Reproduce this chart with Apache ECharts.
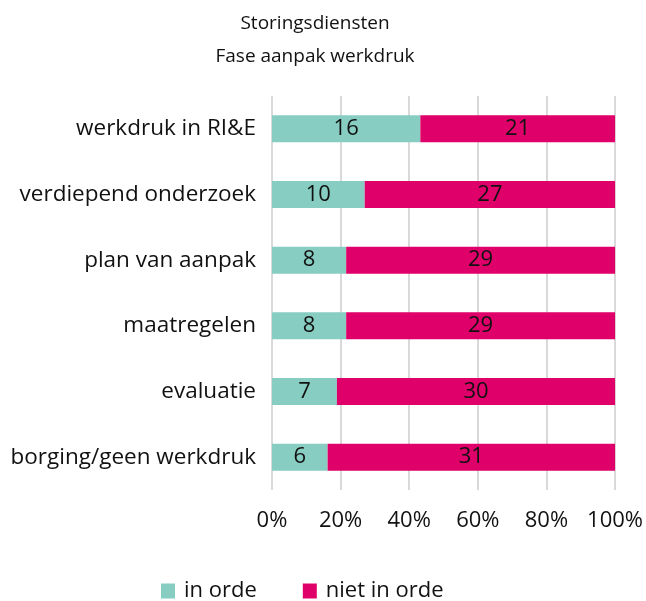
<!DOCTYPE html>
<html>
<head>
<meta charset="utf-8">
<script src="https://cdn.jsdelivr.net/npm/echarts@6/dist/echarts.min.js"></script>
<style>
  html, body { margin: 0; padding: 0; background: #fff; }
  #chart { width: 646px; height: 601px; }
</style>
</head>
<body>
<div id="chart"></div>
<script>
const categories = [
  'werkdruk in RI&E',
  'verdiepend onderzoek',
  'plan van aanpak',
  'maatregelen',
  'evaluatie',
  'borging/geen werkdruk'
]
const inOrde = [16, 10, 8, 8, 7, 6]
const nietInOrde = [21, 27, 29, 29, 30, 31]
const xTicks = [0, 20, 40, 60, 80, 100]

const FONT = '"Open Sans", "Noto Sans", sans-serif'

const totals = inOrde.map((v, i) => v + nietInOrde[i])
const pct = (arr) => arr.map((v, i) => ({ value: (v / totals[i]) * 100, count: v }))

const chart = echarts.init(document.getElementById('chart'))

const labelCfg = {
  show: true,
  position: 'inside',
  color: '#111',
  fontFamily: FONT,
  fontSize: 22,
  formatter: (p) => p.data.count
}

chart.setOption({
  animation: false,
  title: {
    text: 'Storingsdiensten\nFase aanpak werkdruk',
    left: 310,
    textAlign: 'center',
    top: 2,
    textStyle: {
      fontFamily: FONT,
      fontSize: 19,
      fontWeight: 'normal',
      color: '#111',
      lineHeight: 33
    }
  },
  legend: {
    bottom: -1,
    left: 161,
    padding: 0,
    itemWidth: 14,
    itemHeight: 15,
    itemGap: 46,
    icon: 'rect',
    textStyle: { fontFamily: FONT, fontSize: 22, color: '#111', padding: [0, 0, 0, 4] },
    data: ['in orde', 'niet in orde']
  },
  grid: {
    left: 272,
    right: 30,
    top: 96,
    bottom: 111
  },
  xAxis: {
    type: 'value',
    min: xTicks[0],
    max: xTicks[xTicks.length - 1],
    interval: 20,
    axisLine: { show: false },
    axisTick: { show: false },
    splitLine: { show: true, lineStyle: { color: '#d9d9d9', width: 2 } },
    axisLabel: {
      formatter: '{value}%',
      fontFamily: FONT,
      fontSize: 22,
      color: '#111',
      margin: 20
    }
  },
  yAxis: {
    type: 'category',
    inverse: true,
    data: categories,
    axisLine: { show: false },
    axisTick: { show: false },
    axisLabel: {
      fontFamily: FONT,
      fontSize: 22.5,
      color: '#111',
      margin: 16
    }
  },
  series: [
    {
      name: 'in orde',
      type: 'bar',
      stack: 'total',
      barWidth: 27,
      itemStyle: { color: '#88cdc2' },
      label: labelCfg,
      data: pct(inOrde)
    },
    {
      name: 'niet in orde',
      type: 'bar',
      stack: 'total',
      barWidth: 27,
      itemStyle: { color: '#e0006a' },
      label: labelCfg,
      data: pct(nietInOrde)
    }
  ]
})

window.addEventListener('resize', () => chart.resize())
</script>
</body>
</html>
